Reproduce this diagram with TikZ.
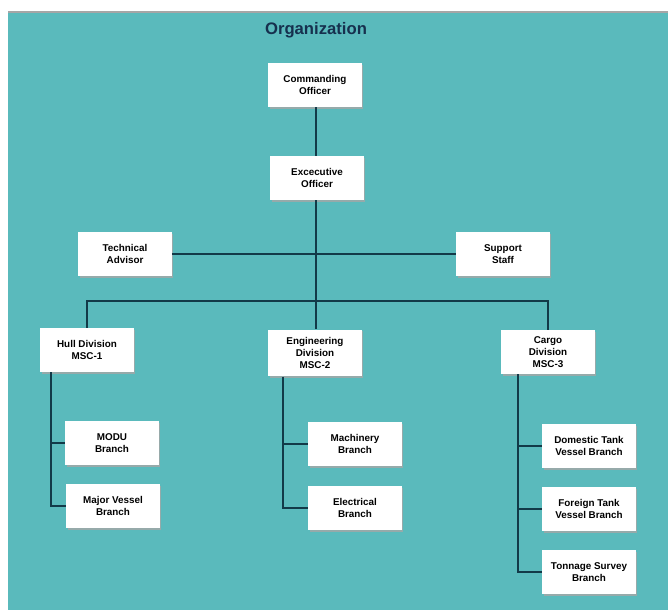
\documentclass[tikz,border=0pt]{standalone}
\usepackage{fontspec}
\setmainfont{Liberation Sans}
\usetikzlibrary{shadows}
\definecolor{bgteal}{RGB}{90,186,188}
\definecolor{linedark}{RGB}{18,58,72}
\definecolor{titlenavy}{RGB}{22,48,78}
\begin{document}
\begin{tikzpicture}[x=0.75pt, y=-0.75pt, font=\bfseries\fontsize{7.4}{8.8}\selectfont,
        unit/.style={rectangle, fill=white, minimum width=70pt, minimum height=33pt, inner sep=1pt,
          align=center, drop shadow={shadow xshift=1.2pt, shadow yshift=-1.2pt, fill=gray!70, opacity=0.8}},
        link/.style={draw=linedark, line width=1.5pt}]
        % ---- background ----
        \useasboundingbox (0,0) rectangle (668,610);
        \fill[white] (0,0) rectangle (668,610);
        \fill[bgteal] (8,12) rectangle (668,610);
        \draw[gray!70, line width=1.5pt] (8,12) -- (668,12);
        \node[text=titlenavy, font=\bfseries\fontsize{12.5}{14}\selectfont] (title) at (316,30) {Organization};
        % ---- command ----
        \node[unit] (CO) at (315,85)  {Commanding\\Officer};
        \node[unit] (EO) at (317,178) {Excecutive\\Officer};
        \node[unit] (TA) at (125,254) {Technical\\Advisor};
        \node[unit] (SS) at (503,254) {Support\\Staff};
        % ---- divisions ----
        \node[unit] (HD) at (87,350)  {Hull Division\\MSC-1};
        \node[unit, minimum height=35pt] (ED) at (315,353) {Engineering\\Division\\MSC-2};
        \node[unit] (CD) at (548,352) {Cargo\\Division\\MSC-3};
        % ---- branches ----
        \node[unit] (MB) at (112,443) {MODU\\Branch};
        \node[unit] (MV) at (113,506) {Major Vessel\\Branch};
        \node[unit] (MA) at (355,444) {Machinery\\Branch};
        \node[unit] (EL) at (355,508) {Electrical\\Branch};
        \node[unit] (DT) at (589,446) {Domestic Tank\\Vessel Branch};
        \node[unit] (FT) at (589,509) {Foreign Tank\\Vessel Branch};
        \node[unit] (TS) at (589,572) {Tonnage Survey\\Branch};
        % ---- connectors ----
        \coordinate (J) at (316,301);
        \draw[link] (CO.south -| J) -- (EO.north -| J);
        \draw[link] (EO.south -| J) -- (ED.north -| J);
        \draw[link] (TA.east) -- (SS.west);
        \draw[link] (HD.north) |- (J) -| (CD.north);
        \coordinate (HV) at (51,350);
        \coordinate (EV) at (283,353);
        \coordinate (CV) at (518,352);
        \draw[link] (HD.south -| HV) |- (MV.west);
        \draw[link] (HV |- MB.west) -- (MB.west);
        \draw[link] (ED.south -| EV) |- (EL.west);
        \draw[link] (EV |- MA.west) -- (MA.west);
        \draw[link] (CD.south -| CV) |- (TS.west);
        \foreach \b in {DT, FT}
          \draw[link] (CV |- \b.west) -- (\b.west);
    \end{tikzpicture}
\end{document}
